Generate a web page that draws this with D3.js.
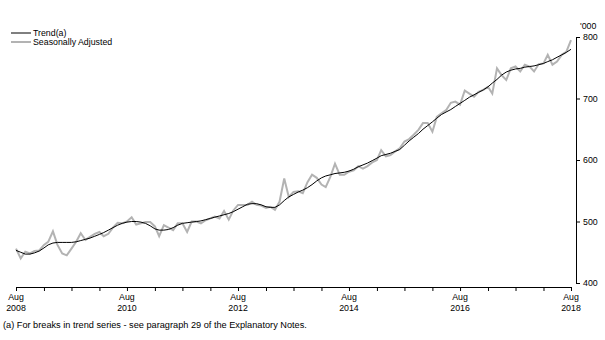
<!DOCTYPE html>
<html>
<head>
<meta charset="utf-8">
<script src="https://cdn.jsdelivr.net/npm/d3@7"></script>
<style>
  html, body { margin: 0; padding: 0; background: #fff; }
  svg { display: block; font-family: "Liberation Sans", Arial, sans-serif; }
</style>
</head>
<body>
<svg id="chart" width="605" height="340"></svg>
<script>
// Monthly series, Aug 2008 to Aug 2018 ('000)
const firstMonth = new Date(2008, 7, 1);
const lastMonth = new Date(2018, 7, 1);

const trend = [
  453, 450, 447, 447, 449, 452, 457, 462, 465, 466, 466, 466,
  466, 467, 469, 471, 473, 476, 479, 482, 486, 490, 494, 497,
  499, 500, 500, 499, 497, 493, 488, 486, 486, 487, 490, 494,
  497, 498, 499, 500, 501, 503, 505, 507, 509, 511, 513, 516,
  520, 524, 528, 529, 529, 527, 524, 523, 523, 527, 534, 540,
  544, 548, 551, 555, 560, 566, 571, 574, 576, 578, 579, 580,
  582, 585, 589, 592, 595, 599, 603, 607, 609, 611, 614, 617,
  624, 631, 637, 643, 650, 656, 662, 668, 674, 678, 682, 687,
  692, 697, 702, 706, 710, 714, 719, 725, 731, 738, 743, 746,
  748, 749, 751, 752, 753, 755, 757, 760, 763, 767, 771, 775,
  780
];

const seasAdj = [
  456, 440, 451, 448, 452, 453, 462, 467, 484, 462, 448, 445,
  456, 467, 481, 470, 475, 480, 483, 476, 480, 490, 498, 497,
  500, 507, 495, 497, 499, 499, 492, 476, 494, 490, 486, 497,
  497, 483, 500, 500, 497, 502, 505, 508, 505, 517, 503, 518,
  527, 527, 527, 532, 527, 526, 522, 524, 519, 532, 570, 540,
  548, 549, 546, 564, 576, 571, 560, 556, 573, 594, 576, 576,
  581, 583, 590, 586, 590, 596, 600, 616, 606, 608, 614, 619,
  630, 634, 641, 649, 660, 660, 646, 670, 676, 681, 693, 695,
  690, 713, 708, 703, 711, 714, 719, 708, 749, 738, 730, 749,
  752, 744, 755, 752, 744, 756, 757, 771, 755, 760, 771, 776,
  795
];

const yTicks = [400, 500, 600, 700, 800];
const legendItems = ["Trend(a)", "Seasonally Adjusted"];
const footnote = "(a) For breaks in trend series - see paragraph 29 of the Explanatory Notes.";

const months = d3.timeMonth.range(firstMonth, d3.timeMonth.offset(lastMonth, 1));

const svg = d3.select("#chart");

const x = d3.scaleTime().domain([firstMonth, lastMonth]).range([16, 571]);
const y = d3.scaleLinear().domain([400, 800]).range([283, 37]);

const fontSize = 8.8;

// x axis: ticks every six months, labels on even-year Augusts
const xTickDates = months.filter((d, i) => i % 6 === 0);
const xAxisY = 287;
const xAxis = d3.axisBottom(x)
  .tickValues(xTickDates)
  .tickSize(4)
  .tickSizeOuter(0)
  .tickFormat("");
const gx = svg.append("g").attr("transform", `translate(0,${xAxisY})`).call(xAxis);
gx.select(".domain").attr("stroke", "#000").attr("stroke-width", 1);
gx.selectAll(".tick line").attr("stroke", "#000");

const labelDates = months.filter((d, i) => i % 24 === 0);
const xl = svg.append("g");
labelDates.forEach(d => {
  const t = xl.append("text")
    .attr("x", x(d))
    .attr("text-anchor", "middle")
    .attr("font-size", fontSize)
    .attr("fill", "#000");
  t.append("tspan").attr("x", x(d)).attr("y", 300).text(d3.timeFormat("%b")(d));
  t.append("tspan").attr("x", x(d)).attr("y", 311).text(d3.timeFormat("%Y")(d));
});

// y axis on the right
const yAxisX = 576;
const yAxis = d3.axisRight(y)
  .tickValues(yTicks)
  .tickSize(4)
  .tickSizeOuter(0)
  .tickPadding(3);
const gy = svg.append("g").attr("transform", `translate(${yAxisX},0)`).call(yAxis);
gy.select(".domain").attr("stroke", "#000");
gy.selectAll(".tick line").attr("stroke", "#000");
gy.selectAll(".tick text")
  .attr("font-size", fontSize)
  .attr("font-family", "Liberation Sans, Arial, sans-serif")
  .attr("fill", "#000");

svg.append("text")
  .attr("x", 580)
  .attr("y", 29)
  .attr("font-size", fontSize)
  .attr("fill", "#000")
  .text("'000");

// series lines
const line = d3.line()
  .x((d, i) => x(months[i]))
  .y(d => y(d));

svg.append("path")
  .datum(seasAdj)
  .attr("fill", "none")
  .attr("stroke", "#b3b3b3")
  .attr("stroke-width", 2)
  .attr("stroke-linejoin", "miter")
  .attr("d", line);

svg.append("path")
  .datum(trend)
  .attr("fill", "none")
  .attr("stroke", "#000")
  .attr("stroke-width", 1)
  .attr("d", line);

// legend
const legendStyles = [
  { color: "#000", width: 1 },
  { color: "#b3b3b3", width: 2 }
];
const lg = svg.append("g");
legendItems.forEach((name, i) => {
  const ly = 33 + i * 9;
  lg.append("line")
    .attr("x1", 11).attr("x2", 31)
    .attr("y1", ly).attr("y2", ly)
    .attr("stroke", legendStyles[i].color)
    .attr("stroke-width", legendStyles[i].width);
  lg.append("text")
    .attr("x", 33)
    .attr("y", ly + 3)
    .attr("font-size", fontSize)
    .attr("fill", "#000")
    .text(name);
});

// footnote
svg.append("text")
  .attr("x", 3)
  .attr("y", 328)
  .attr("font-size", 9.2)
  .attr("fill", "#000")
  .text(footnote);
</script>
</body>
</html>
